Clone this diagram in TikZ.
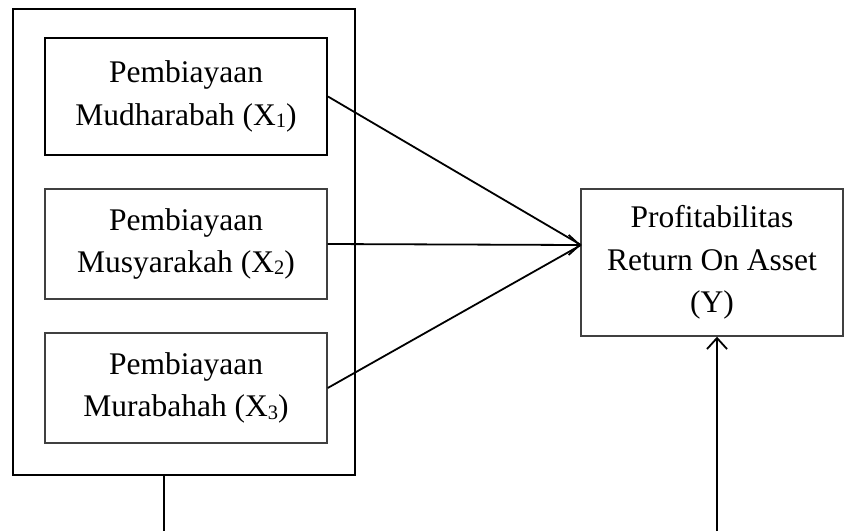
\documentclass[tikz,border=0pt]{standalone}
\usepackage{fontspec}
\setmainfont{Liberation Serif}
\usepackage{tikz}
\usetikzlibrary{arrows.meta}

\newcommand{\idx}[1]{\raisebox{-0.07em}{\fontsize{20.5}{20.5}\selectfont #1}}

\begin{document}
\begin{tikzpicture}[x=1pt,y=-1pt,
    varbox/.style={draw=black!75,line width=1.4pt,minimum width=282pt,minimum height=110pt,inner sep=0pt,align=center,
      font=\fontsize{31.5}{42.5}\selectfont},
    frame/.style={draw,line width=1.9pt,minimum width=342pt,minimum height=466pt,inner sep=0pt},
    link/.style={line width=1.8pt},
    arr/.style={link,-{Straight Barb[length=11pt,width=20pt,line width=1.8pt]}}]
  \useasboundingbox (0,0) rectangle (845,531);
   \draw (184,242) node[frame] (vars) {};
    \draw (186,96.5) node[varbox,draw=black,line width=1.9pt,minimum height=117pt] (mudharabah) {Pembiayaan\\Mudharabah (X\idx{1})};
    \draw (186,244) node[varbox] (musyarakah) {Pembiayaan\\Musyarakah (X\idx{2})};
    \draw (186,388) node[varbox] (murabahah) {Pembiayaan\\Murabahah (X\idx{3})};
    \draw (712,262.5) node[varbox,minimum width=262pt,minimum height=147pt] (roa) {Profitabilitas\\Return On Asset\\(Y)};
  \coordinate (roain) at (581,245);
  \coordinate (varsout) at (164,531);
  \coordinate (roaout) at (717,531);
       \path[link] (mudharabah.east) edge (roain);
       \path[link] (murabahah.east) edge (roain);
       \path[arr] (musyarakah.east) edge (roain);
       \path[link] (varsout |- vars.south) edge (varsout);
       \path[arr] (roaout) edge (roaout |- roa.south);

\end{tikzpicture}
\end{document}
